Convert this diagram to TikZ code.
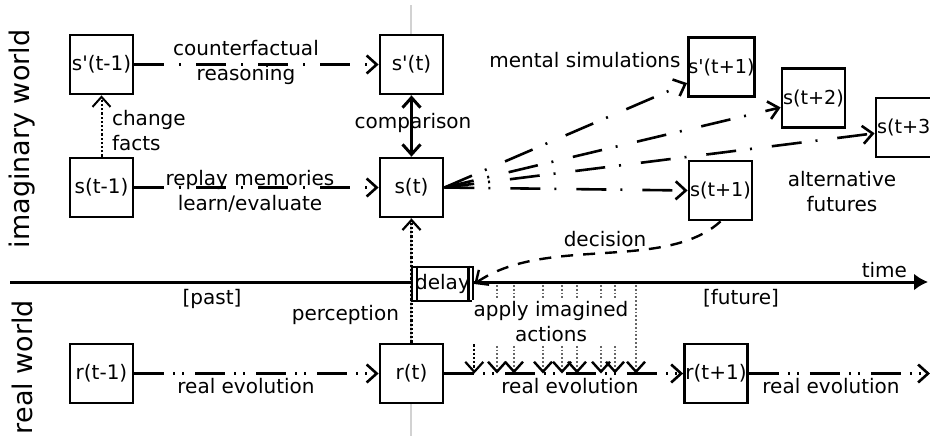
\documentclass[tikz,border=0pt]{standalone}
\usepackage{fontspec}
\setmainfont[Ligatures=TeXOff]{DejaVu Sans}
\usetikzlibrary{arrows.meta}

\begin{document}
\begin{tikzpicture}[x=0.5pt, y=-0.5pt,
	font=\fontsize{10}{12.5}\selectfont,
	>={Straight Barb[length=5pt, width=9pt]},
	state/.style={draw, rectangle, fill=white, line width=1.4pt,
		minimum width=31.5pt, minimum height=29.5pt, inner sep=0pt},
	future/.style={state, font=\fontsize{9.6}{11}\selectfont},
	world/.style={rotate=90, font=\fontsize{13.5}{16}\selectfont},
	counter/.style={->, line width=1.3pt,
		dash pattern=on 15pt off 7.5pt on 1pt off 7.5pt},
	evolve/.style={->, line width=1.3pt,
		dash pattern=on 15pt off 4.5pt on 1pt off 3.5pt on 1pt off 5.5pt},
	simulate/.style={->, line width=1.3pt,
		dash pattern=on 15pt off 7pt on 1pt off 10pt},
	sense/.style={->, line width=1.1pt, densely dotted},
	action/.style={-{Straight Barb[length=5pt, width=9pt, color=black, line width=1.2pt]},
		line width=0.9pt, densely dotted, black!60}]
	\def \axisy {282}
	\def \realy {373.5}

	\useasboundingbox (0,0) rectangle (930,436);

	\coordinate (dividertop) at (411,5);
	\coordinate (dividerbottom) at (411,436);
	\coordinate (axisleft) at (10,\axisy);
	\coordinate (axisright) at (928,\axisy);
	\coordinate (realend) at (930,\realy);

	\draw[gray!35, line width=1pt] (dividertop) -- (dividerbottom);
	\draw[line width=1.5pt, -{Latex[length=7pt, width=8.5pt]}] (axisleft) -- (axisright);

	\node[world] (imagworld) at (22,139) {imaginary world};
	\node[world] (realworld) at (22,367) {real world};

	\node[state] (pastcounter) at (101.5,64.5)  {s'(t-1)};
	\node[state] (pastmemory)  at (101.5,187.5) {s(t-1)};
	\node[state] (nowcounter)  at (411.5,64.5)  {s'(t)};
	\node[state] (nowstate)    at (411.5,187.5) {s(t)};
	\node[state] (pastreal)    at (101.5,\realy) {r(t-1)};
	\node[state] (nowreal)     at (411.5,\realy) {r(t)};
	\node[state] (nextreal)    at (716,\realy)   {r(t+1)};

	\node[future] (simfirst)  at (721.5,67)   {s'(t+1)};
	\node[future] (simsecond) at (813.5,98)   {s(t+2)};
	\node[future] (simthird)  at (907.5,127.5) {s(t+3)};
	\node[future] (simfourth) at (720.5,190.5) {s(t+1)};

	\draw[counter] (pastcounter) -- (nowcounter);
	\draw[counter] (pastmemory) -- (nowstate);
	\draw[sense, line width=1pt] (pastmemory) -- (pastcounter);
	\draw[<->, line width=1.5pt] (nowcounter) -- (nowstate);

	\draw[simulate] (nowstate.east) -- (simfirst.-155);
	\draw[simulate] (nowstate.east) -- (simsecond.-164);
	\draw[simulate] (nowstate.east) -- (simthird.-170);
	\draw[simulate] (nowstate.east) -- (simfourth.west);

	\draw[evolve] (pastreal) -- (nowreal);
	\draw[evolve] (nowreal) -- (nextreal);
	\draw[evolve] (nextreal.east) -- (realend);

	\draw[sense] (nowreal.north) -- (nowstate.south);

	\node[draw, rectangle, fill=white, line width=1.3pt, inner sep=0pt,
		minimum width=30.5pt, minimum height=17pt] (delay) at (442.5,284)
		{delay};
	\draw[line width=1.2pt] ([xshift=3pt]delay.north west) -- ([xshift=3pt]delay.south west);
	\draw[line width=1.2pt] ([xshift=-3pt]delay.north east) -- ([xshift=-3pt]delay.south east);

	\draw[sense] (delay.south east) -- (delay.south east |- nowreal.east);
	\foreach \x in {497,514,543,562,577,601,615,636} {
		\coordinate (act\x) at (\x,285);
		\draw[action] (act\x) -- (act\x |- nowreal.east);
	}

	\draw[->, line width=1.2pt, dash pattern=on 6pt off 5pt]
		(simfourth.south) .. controls (665,272) and (545,235) .. (delay.east);

	\node[align=center] (counterlabel) at (246,62.5)
		{counterfactual\\reasoning};
	\node[align=center] (replaylabel) at (250,191)
		{replay memories\\learn/evaluate};
	\node[align=left, anchor=west] (changelabel) at (105,131)
		{change\\facts};
	\node[] (comparelabel) at (413,123) {comparison};
	\node[] (mentallabel) at (585,60) {mental simulations};
	\node[align=center] (alternlabel) at (842,192)
		{alternative\\futures};
	\node[] (decisionlabel) at (605,239) {decision};
	\node[anchor=east] (timelabel) at (914,270) {time};
	\node[] (pastlabel) at (212,299) {[past]};
	\node[] (futurelabel) at (741,298) {[future]};
	\node[anchor=east] (perceptlabel) at (406,315) {perception};
	\node[align=center, fill=white, inner sep=1pt] (applylabel) at (551,322)
		{apply imagined\\actions};
	\node[] (evolfirst)  at (246,386) {real evolution};
	\node[] (evolsecond) at (570,386) {real evolution};
	\node[] (evolthird)  at (831,386) {real evolution};
\end{tikzpicture}
\end{document}
